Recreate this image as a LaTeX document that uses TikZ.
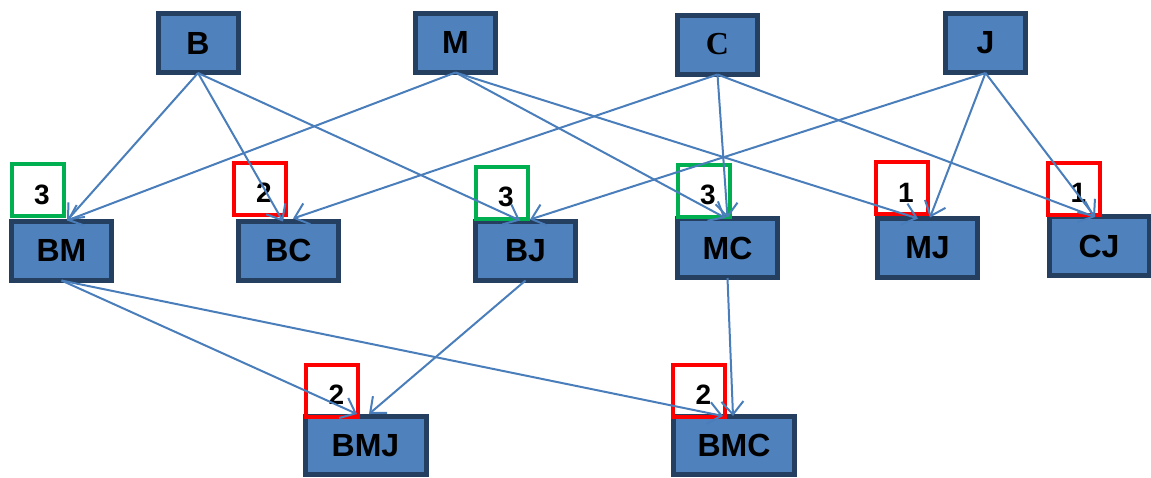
\documentclass[tikz,border=0pt]{standalone}
\usepackage{fontspec}
\setmainfont{Liberation Sans}
\newfontfamily\serifC{Liberation Serif}
\usetikzlibrary{arrows.meta}
\definecolor{boxfill}{HTML}{4F81BD}
\definecolor{boxline}{HTML}{243F60}
\definecolor{edgecol}{HTML}{4A7EBB}
\definecolor{okgreen}{HTML}{00B050}
\definecolor{badred}{HTML}{FF0000}
\tikzset{
  setbox/.style={draw=boxline, fill=boxfill, line width=5pt, inner sep=0pt,
    font=\fontsize{32}{32}\selectfont\bfseries},
  topbox/.style={setbox, minimum width=80pt, minimum height=59pt},
  midbox/.style={setbox, minimum width=100pt, minimum height=59pt},
  lowbox/.style={setbox, minimum width=121pt, minimum height=58pt},
  countsq/.style={line width=4pt, minimum width=52pt, minimum height=52pt, inner sep=0pt},
  goodsq/.style={countsq, draw=okgreen},
  badsq/.style={countsq, draw=badred},
  countnum/.style={inner sep=0pt, font=\fontsize{28}{28}\selectfont\bfseries},
  edge/.style={draw=edgecol, line width=2pt, -{Straight Barb[length=13pt,width=22pt,line width=2pt]}}
}
\begin{document}
\begin{tikzpicture}[x=1pt,y=-1pt]
\useasboundingbox (0,0) rectangle (1151,477);
% top row
\node[topbox] (B) at (198,43) {B};
\node[topbox] (M) at (455.5,42.5) {M};
\node[topbox] (C) at (717.5,44.5) {\serifC\bfseries C};
\node[topbox] (J) at (985.5,43) {J};
% middle row
\node[midbox] (BM) at (61.5,250.5) {BM};
\node[midbox] (BC) at (288.5,250.5) {BC};
\node[midbox] (BJ) at (525.5,250.5) {BJ};
\node[midbox] (MC) at (727.5,248) {MC};
\node[midbox] (MJ) at (927.5,247.5) {MJ};
\node[midbox] (CJ) at (1099,246) {CJ};
% bottom row
\node[lowbox] (BMJ) at (365.5,445.5) {BMJ};
\node[lowbox] (BMC) at (734,445.5) {BMC};
% count squares
\node[goodsq] (sBM) at (37.5,190) {};
\node[badsq] (sBC) at (259.5,188.5) {};
\node[goodsq] (sBJ) at (501.5,192.5) {};
\node[goodsq] (sMC) at (703.5,190.5) {};
\node[badsq] (sMJ) at (901.5,188) {};
\node[badsq] (sCJ) at (1074,188.5) {};
\node[badsq] (sBMJ) at (332,390.5) {};
\node[badsq] (sBMC) at (699,390.5) {};
\node[countnum] (nBM) at ([shift={(4.5,4.5)}]sBM.center) {3};
\node[countnum] (nBC) at ([shift={(4.5,4.5)}]sBC.center) {2};
\node[countnum] (nBJ) at ([shift={(4.5,4.5)}]sBJ.center) {3};
\node[countnum] (nMC) at ([shift={(4.5,4.5)}]sMC.center) {3};
\node[countnum] (nMJ) at ([shift={(4.5,4.5)}]sMJ.center) {1};
\node[countnum] (nCJ) at ([shift={(4.5,4.5)}]sCJ.center) {1};
\node[countnum] (nBMJ) at ([shift={(4.5,4.5)}]sBMJ.center) {2};
\node[countnum] (nBMC) at ([shift={(4.5,4.5)}]sBMC.center) {2};
% edges
\draw[edge] ([yshift=2pt]B.south) -- ([shift={(5.5,2)}]BM.north);
\draw[edge] ([yshift=2pt]B.south) -- ([shift={(-5.5,3)}]BC.north);
\draw[edge] ([yshift=2pt]B.south) -- ([shift={(-5.5,2)}]BJ.north);
\draw[edge] ([yshift=2pt]M.south) -- ([shift={(5.5,2)}]BM.north);
\draw[edge] ([yshift=2pt]M.south) -- ([shift={(-2,2)}]MC.north);
\draw[edge] ([yshift=2pt]M.south) -- ([shift={(-9.5,3)}]MJ.north);
\draw[edge] ([yshift=2pt]C.south) -- ([shift={(4.5,0)}]BC.north);
\draw[edge] ([yshift=2pt]C.south) -- ([shift={(0,2)}]MC.north);
\draw[edge] ([yshift=2pt]C.south) -- ([shift={(-4,3)}]CJ.north);
\draw[edge] ([yshift=2pt]J.south) -- ([shift={(4.5,1)}]BJ.north);
\draw[edge] ([yshift=2pt]J.south) -- ([shift={(2.5,2)}]MJ.north);
\draw[edge] ([yshift=2pt]J.south) -- ([shift={(-4,3)}]CJ.north);
\draw[edge] ([yshift=2pt]BM.south) -- ([shift={(-8.5,0)}]BMJ.north);
\draw[edge] ([yshift=2pt]BJ.south) -- ([shift={(3.5,0)}]BMJ.north);
\draw[edge] ([yshift=2pt]BM.south) -- ([shift={(-11,2)}]BMC.north);
\draw[edge] ([yshift=2pt]MC.south) -- ([shift={(-1,2)}]BMC.north);
\end{tikzpicture}
\end{document}
